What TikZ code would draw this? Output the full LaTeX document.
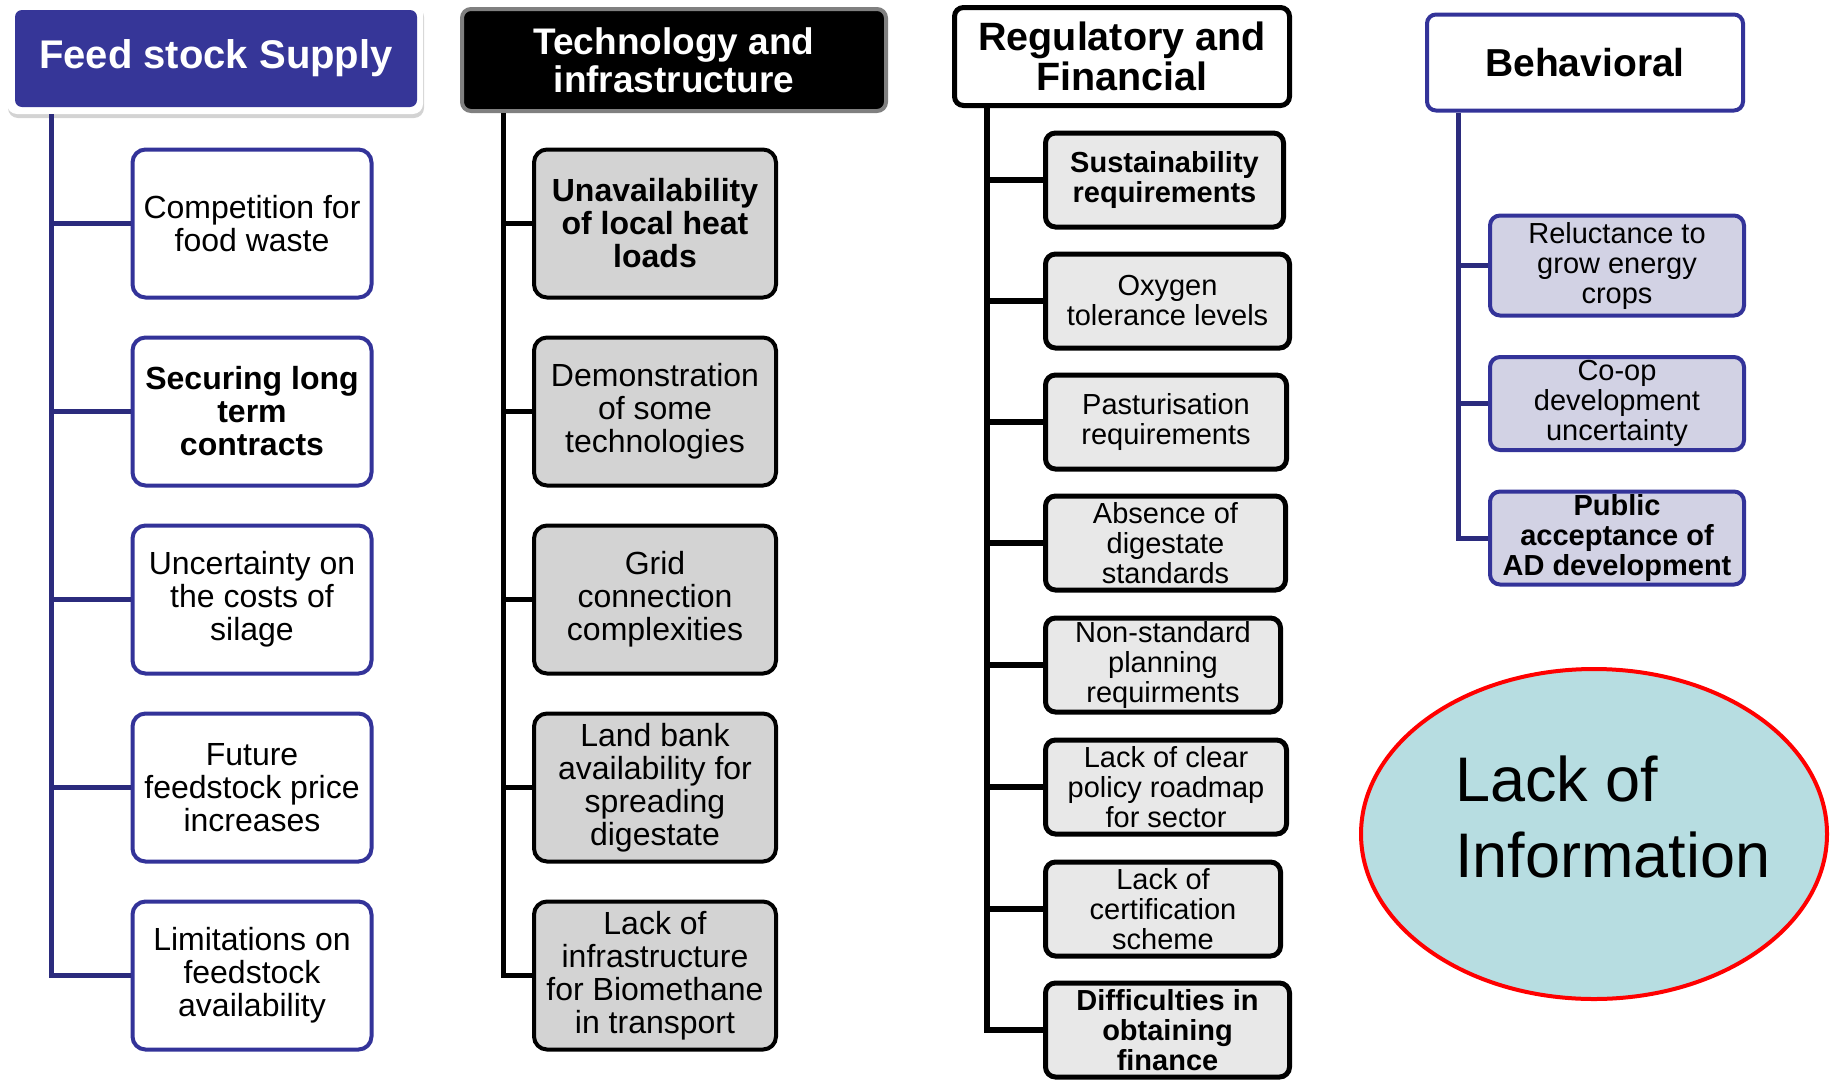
\documentclass[tikz,border=0pt]{standalone}
\usepackage{fontspec}
\setmainfont{Liberation Sans}
\usetikzlibrary{shadows,shapes.geometric}
\definecolor{hdrblue}{RGB}{54,54,152}
\definecolor{bdrblue}{RGB}{51,51,153}
\definecolor{navy}{RGB}{43,43,125}
\definecolor{gfill}{RGB}{211,211,211}
\definecolor{lgfill}{RGB}{232,232,232}
\definecolor{lavfill}{RGB}{210,210,228}
\definecolor{ellfill}{RGB}{183,221,225}
\definecolor{hdrgrey}{RGB}{128,128,128}
\tikzset{
  fA/.style={font=\fontsize{32}{33}\selectfont},
  fB/.style={font=\fontsize{29}{30}\selectfont},
  c1box/.style={draw=bdrblue, line width=4pt, fill=white, rounded corners=13pt,
    minimum width=239pt, minimum height=148pt, inner sep=0pt, align=center, fA},
  c2box/.style={draw=black, line width=4pt, fill=gfill, rounded corners=13pt,
    minimum width=242pt, minimum height=148pt, inner sep=0pt, align=center, fA},
  c3box/.style={draw=black, line width=5pt, fill=lgfill, rounded corners=10pt,
    minimum height=94pt, inner sep=0pt, align=center, fB},
  c4box/.style={draw=bdrblue, line width=4pt, fill=lavfill, rounded corners=10pt,
    minimum width=254pt, inner sep=0pt, align=center, fB},
  blueline/.style={draw=navy, line width=5pt},
  blackline/.style={draw=black, line width=5pt},
  hdrtext/.style={font=\fontsize{39.5}{40}\selectfont\bfseries, align=center, inner sep=0pt},
}
\begin{document}
\begin{tikzpicture}[x=1pt,y=-1pt]
\useasboundingbox (0,0) rectangle (1830,1079);

% ---------- Column 1: Feed stock supply ----------
\node[fill=white, rounded corners=10pt, minimum width=416pt, minimum height=111pt,
  drop shadow={opacity=0.35, shadow xshift=1pt, shadow yshift=-4pt}] (h1frame) at (215,58.5) {};
\node[fill=hdrblue, rounded corners=7pt, minimum width=402pt, minimum height=97pt,
  text=white, font=\fontsize{40}{41}\selectfont\bfseries, inner sep=0pt] (h1) at (216,58.5) {Feed stock Supply};
\coordinate (v1) at (51,0);

\node[c1box] (a1) at (252,223.5) {Competition for\\food waste};
\node[c1box, font=\fontsize{32}{33}\selectfont\bfseries] (a2) at (252,411.5) {Securing long\\term\\contracts};
\node[c1box] (a3) at (252,599.5) {Uncertainty on\\the costs of\\silage};
\node[c1box] (a4) at (252,787.5) {Future\\feedstock price\\increases};
\node[c1box] (a5) at (252,975.5) {Limitations on\\feedstock\\availability};

\draw[blueline] (v1 |- h1frame.south) |- (a5.west);
\foreach \n in {a1,a2,a3,a4} \draw[blueline] (v1 |- \n.west) -- (\n.west);

% ---------- Column 2: Technology ----------
\node[fill=black, draw=hdrgrey, line width=4pt, rounded corners=9pt, minimum width=424pt,
  minimum height=102pt, text=white, hdrtext, font=\fontsize{37}{38}\selectfont\bfseries] (h2) at (674,60)
  {Technology and\\infrastructure};
\coordinate (v2) at (503,0);

\node[c2box, font=\fontsize{32}{33}\selectfont\bfseries] (b1) at (655,223.5) {Unavailability\\of local heat\\loads};
\node[c2box] (b2) at (655,411.5) {Demonstration\\of some\\technologies};
\node[c2box] (b3) at (655,599.5) {Grid\\connection\\complexities};
\node[c2box] (b4) at (655,787.5) {Land bank\\availability for\\spreading\\digestate};
\node[c2box] (b5) at (655,975.5) {Lack of\\infrastructure\\for Biomethane\\in transport};

\draw[blackline] (v2 |- h2.south) |- (b5.west);
\foreach \n in {b1,b2,b3,b4} \draw[blackline] (v2 |- \n.west) -- (\n.west);

% ---------- Column 3: Regulatory ----------
\node[fill=white, draw=black, line width=5pt, rounded corners=9pt, minimum width=335pt,
  minimum height=98pt, hdrtext] (h3) at (1122,56.5) {Regulatory and\\Financial};
\coordinate (v3) at (987,0);

\node[c3box, minimum width=238pt, font=\fontsize{29}{30}\selectfont\bfseries] (r1) at (1164.5,180) {Sustainability\\requirements};
\node[c3box, minimum width=244pt] (r2) at (1167.5,301) {Oxygen\\tolerance levels};
\node[c3box, minimum width=241pt] (r3) at (1166,422) {Pasturisation\\requirements};
\node[c3box, minimum width=240pt] (r4) at (1165.5,543) {Absence of\\digestate\\standards};
\node[c3box, minimum width=235pt] (r5) at (1163,665) {Non-standard\\planning\\requirments};
\node[c3box, minimum width=241pt] (r6) at (1166,787) {Lack of clear\\policy roadmap\\for sector};
\node[c3box, minimum width=235pt] (r7) at (1163,909) {Lack of\\certification\\scheme};
\node[c3box, minimum width=244pt, font=\fontsize{29}{30}\selectfont\bfseries] (r8) at (1167.5,1030) {Difficulties in\\obtaining\\finance};

\draw[blackline, line width=6pt] (v3 |- h3.south) |- (r8.west);
\foreach \n in {r1,r2,r3,r4,r5,r6,r7} \draw[blackline, line width=6pt] (v3 |- \n.west) -- (\n.west);

% ---------- Column 4: Behavioral ----------
\node[fill=white, draw=bdrblue, line width=4pt, rounded corners=9pt, minimum width=316pt,
  minimum height=96pt, hdrtext, font=\fontsize{39}{40}\selectfont\bfseries] (h4) at (1585,62.5) {Behavioral};
\coordinate (v4) at (1458,0);

\node[c4box, minimum height=100pt] (p1) at (1617,265.5) {Reluctance to\\grow energy\\crops};
\node[c4box, minimum height=93pt] (p2) at (1617,403.5) {Co-op\\development\\uncertainty};
\node[c4box, minimum height=93pt, font=\fontsize{29}{30}\selectfont\bfseries] (p3) at (1617,538) {Public\\acceptance of\\AD development};

\draw[blueline] (v4 |- h4.south) |- (p3.west);
\foreach \n in {p1,p2} \draw[blueline] (v4 |- \n.west) -- (\n.west);

% ---------- Lack of information ----------
\node[ellipse, draw=red, line width=4pt, fill=ellfill, minimum width=466pt,
  minimum height=330pt, inner sep=0pt] (info) at (1594,834) {};
\node[anchor=west, inner sep=0pt, align=left, font=\fontsize{63}{76}\selectfont] (infotext)
  at (1455,817) {Lack of\\Information};
\end{tikzpicture}
\end{document}
